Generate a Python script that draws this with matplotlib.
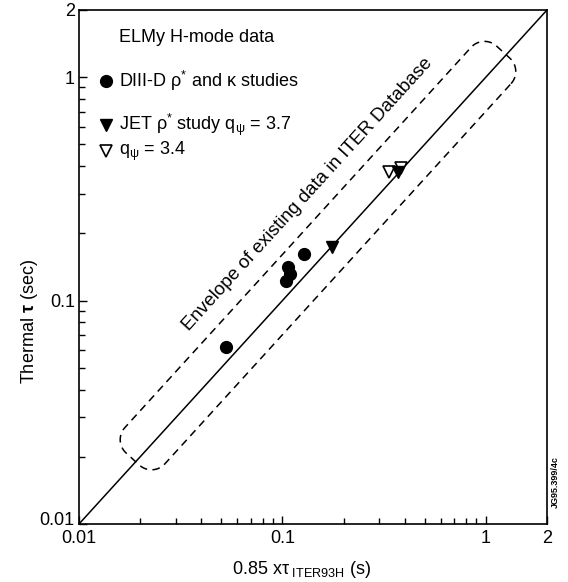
import numpy as np
import matplotlib
matplotlib.use("Agg")
import matplotlib.pyplot as plt
import matplotlib.transforms as mtransforms
from matplotlib.ticker import LogLocator, FixedLocator, FixedFormatter, NullFormatter

plt.rcParams['font.family'] = ['Liberation Sans', 'DejaVu Sans']
plt.rcParams['mathtext.fontset'] = 'custom'
plt.rcParams['mathtext.rm'] = 'Liberation Sans'
plt.rcParams['mathtext.it'] = 'Liberation Sans:italic'
plt.rcParams['mathtext.bf'] = 'Liberation Sans:bold'

# ---------------- data ----------------
diiid_x = [0.053, 0.106, 0.109, 0.104, 0.128]
diiid_y = [0.062, 0.141, 0.131, 0.122, 0.161]
jet37_x = [0.176, 0.369]
jet37_y = [0.173, 0.375]
jet34_x = [0.336, 0.381]
jet34_y = [0.378, 0.394]

axis_lim = [0.01, 2]
tick_vals = [0.01, 0.1, 1, 2]
tick_labels = ['0.01', '0.1', '1', '2']

# envelope of existing ITER database data (extent along the diagonal)
envelope_range = [0.019, 1.26]

# ---------------- figure ----------------
fig = plt.figure(figsize=(5.68, 5.82), dpi=100)
ax = fig.add_axes([79 / 568, 1 - 524 / 582, 468 / 568, 514 / 582])
ax.set_xscale('log')
ax.set_yscale('log')
ax.set_xlim(axis_lim)
ax.set_ylim(axis_lim)

for a in (ax.xaxis, ax.yaxis):
    a.set_major_locator(FixedLocator(tick_vals))
    a.set_major_formatter(FixedFormatter(tick_labels))
    a.set_minor_locator(LogLocator(base=10, subs=np.arange(2, 10)))
    a.set_minor_formatter(NullFormatter())
ax.tick_params(which='both', direction='in', top=False, right=False,
               labelsize=13, width=1, colors='black')
ax.tick_params(which='major', length=6, pad=3)
ax.tick_params(axis='x', which='major', pad=4)
ax.tick_params(which='minor', length=4.5)
for s in ax.spines.values():
    s.set_linewidth(1.2)

# lift the lowest y tick label a little so it clears the x "0.01"
ytick0 = ax.yaxis.get_major_ticks()[0]
ytick0.label1.set_transform(ytick0.label1.get_transform() +
                            mtransforms.ScaledTranslation(0, 4 / 72, fig.dpi_scale_trans))

# diagonal
ax.plot(axis_lim, axis_lim, color='black', lw=1.1, zorder=2)

# data points
ax.plot(diiid_x, diiid_y, 'o', color='black', ms=8.5, zorder=4)
ax.plot(jet34_x, jet34_y, 'v', mfc='white', mec='black', mew=1.2, ms=9, zorder=4)
ax.plot(jet37_x, jet37_y, 'v', color='black', ms=9, zorder=5)

# envelope (rounded band around the diagonal)
p0, p1 = ax.transData.transform([(envelope_range[0], envelope_range[0]),
                                  (envelope_range[1], envelope_range[1])])
d = (p1 - p0)
L = np.hypot(*d)
d = d / L
n = np.array([-d[1], d[0]])
v_lo, v_hi, r = -23.0, 31.0, 18.0
pts = []
def arc(cu, cv, a0, a1):
    t = np.linspace(np.radians(a0), np.radians(a1), 20)
    return [(cu + r * np.cos(tt), cv + r * np.sin(tt)) for tt in t]
pts += arc(L - r, v_lo + r, -90, 0)
pts += arc(L - r, v_hi - r, 0, 90)
pts += arc(r, v_hi - r, 90, 180)
pts += arc(r, v_lo + r, 180, 270)
pts.append(pts[0])
pts = np.array(pts)
disp = p0 + pts[:, :1] * d + pts[:, 1:] * n
env = ax.transData.inverted().transform(disp)
ax.plot(env[:, 0], env[:, 1], color='black', lw=1.1, dashes=(5, 3.5), zorder=3)

angle = np.degrees(np.arctan2(d[1], d[0]))
text_off = mtransforms.ScaledTranslation(n[0] * 8 / 100, n[1] * 8 / 100, fig.dpi_scale_trans)
ax.text(0.142, 0.284, 'Envelope of existing data in ITER Database',
        rotation=angle, rotation_mode='anchor', ha='center', va='center',
        fontsize=13.5, transform=ax.transData + text_off)

# legend block
lx = (119 - 79) / 468
mx = (106 - 79) / 468
def fy(py):
    return (524 - py) / 514
ax.text(lx, fy(37), 'ELMy H-mode data', transform=ax.transAxes,
        fontsize=13, va='center', ha='left')
ax.plot([mx], [fy(81)], 'o', color='black', ms=8.5, transform=ax.transAxes, clip_on=False)
ax.text(lx, fy(81), r'DIII-D $\mathrm{ρ}^{*}$ and κ studies', transform=ax.transAxes,
        fontsize=13, va='center', ha='left')
ax.plot([mx], [fy(125)], 'v', color='black', ms=9, transform=ax.transAxes, clip_on=False)
ax.text(lx, fy(125), r'JET $\mathrm{ρ}^{*}$ study $\mathrm{q}_{\mathrm{ψ}}$ = 3.7',
        transform=ax.transAxes, fontsize=13, va='center', ha='left')
ax.plot([mx], [fy(151)], 'v', mfc='white', mec='black', mew=1.2, ms=9,
        transform=ax.transAxes, clip_on=False)
ax.text(lx, fy(151), r'$\mathrm{q}_{\mathrm{ψ}}$ = 3.4',
        transform=ax.transAxes, fontsize=13, va='center', ha='left')

# axis labels
ax.text((302 - 79) / 468, (524 - 569) / 514,
        r'0.85 x$\mathrm{τ}_{\ \mathrm{ITER93H}}$ (s)',
        transform=ax.transAxes, fontsize=13, ha='center', va='center')
ax.text((30 - 79) / 468, (524 - 322) / 514, r'Thermal $\mathbf{τ}$ (sec)',
        transform=ax.transAxes, fontsize=13, ha='center', va='center', rotation=90)

fig.text(555 / 568, 1 - 482 / 582, 'JG95.399/4c', rotation=90, fontsize=6.5,
         fontweight='bold', ha='center', va='center')

fig.savefig('out.png', dpi=100)
